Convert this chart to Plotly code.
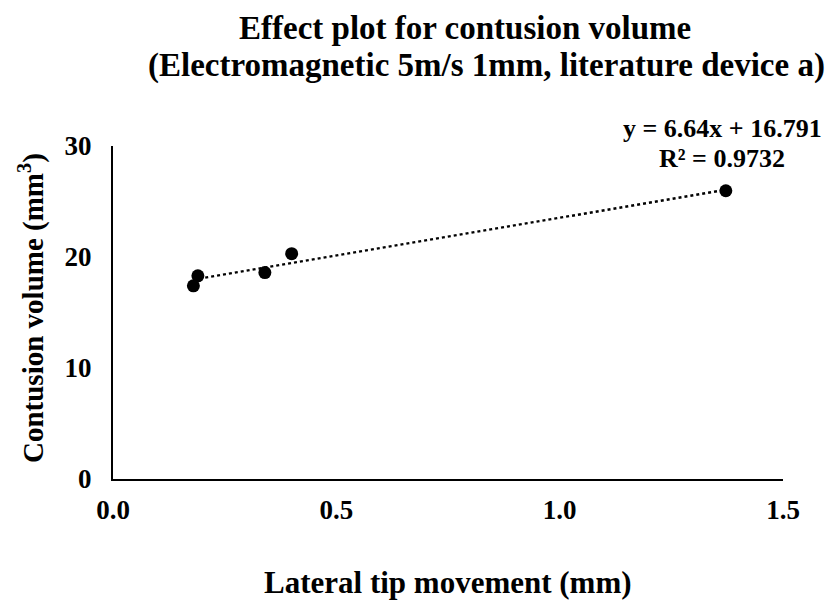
import numpy as np
import plotly.graph_objects as go

# Data
lateral_tip_mm = [0.18, 0.19, 0.34, 0.40, 1.372]
contusion_mm3 = [17.4, 18.3, 18.6, 20.3, 25.97]
eq_lines = ["y = 6.64x + 16.791", "R² = 0.9732"]
title_lines = ["Effect plot for contusion volume",
               "(Electromagnetic 5m/s 1mm, literature device a)"]
x_title = "Lateral tip movement (mm)"
y_title = "Contusion volume (mm<sup>3</sup>)"
x_ticks = [0, 0.5, 1.0, 1.5]
y_ticks = [0, 10, 20, 30]

FONT = "Liberation Serif"

slope, intercept = np.polyfit(lateral_tip_mm, contusion_mm3, 1)
xs = np.array([min(lateral_tip_mm), max(lateral_tip_mm)])
ys = slope * xs + intercept

fig = go.Figure()
fig.add_trace(go.Scatter(x=xs, y=ys, mode="lines",
                         line=dict(color="black", width=2.5, dash="dot"),
                         hoverinfo="skip", showlegend=False))
fig.add_trace(go.Scatter(x=lateral_tip_mm, y=contusion_mm3, mode="markers",
                         marker=dict(color="black", size=13),
                         showlegend=False))

W, H = 828, 602
L, R, T, B = 113, 45, 146, 123

fig.update_layout(
    width=W, height=H,
    margin=dict(l=L, r=R, t=T, b=B, autoexpand=False),
    paper_bgcolor="white", plot_bgcolor="white",
    font=dict(family=FONT, color="black"),
    xaxis=dict(range=[0, 1.5], tickvals=x_ticks,
               ticktext=["<b>%.1f</b>" % v for v in x_ticks],
               showgrid=False, zeroline=False, showline=True,
               linecolor="black", linewidth=2, ticks="",
               tickfont=dict(family=FONT, size=27, color="black"),
               ticklabelstandoff=6),
    yaxis=dict(range=[0, 30], tickvals=y_ticks,
               ticktext=["<b>%d</b>" % v for v in y_ticks],
               showgrid=False, zeroline=False, showline=True,
               linecolor="black", linewidth=2, ticks="",
               tickfont=dict(family=FONT, size=27, color="black"),
               ticklabelstandoff=14),
)


def px_annot(text, cx, cy, size, angle=0):
    fig.add_annotation(text="<b>" + text + "</b>", xref="paper", yref="paper",
                       x=(cx - L) / (W - L - R), y=(H - B - cy) / (H - T - B),
                       xanchor="center", yanchor="middle", textangle=angle,
                       showarrow=False, font=dict(family=FONT, size=size, color="black"))


# Title lines
px_annot(title_lines[0], 465, 28, 33)
px_annot(title_lines[1], 486, 65, 33)
# Axis titles
px_annot(x_title, 448, 582, 31)
px_annot(y_title, 31, 308, 29, angle=-90)
# Trendline equation
px_annot(eq_lines[0], 722, 129, 26)
px_annot(eq_lines[1], 722, 158, 26)

fig.write_html("out.html")
